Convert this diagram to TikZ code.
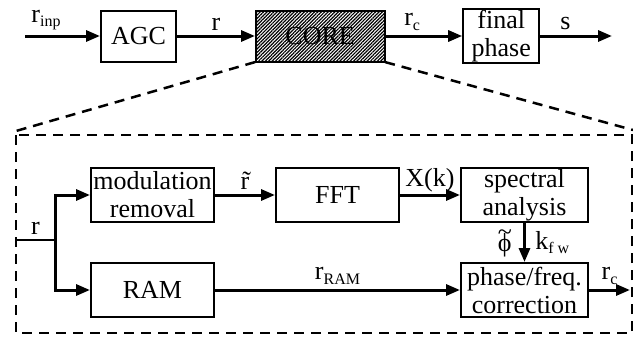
\documentclass[tikz,border=0pt]{standalone}
\usepackage{fontspec}
\setmainfont{Liberation Serif}
\usepackage{tikz}
\usetikzlibrary{arrows.meta,positioning,patterns.meta}
\newcommand{\lsub}[1]{\raisebox{-0.35ex}{\fontsize{16}{16}\selectfont #1}}
\newcommand{\tphi}{\ooalign{ϕ\cr\hidewidth\raisebox{0.42em}{\~{}}\hidewidth\cr}}

\begin{document}
\begin{tikzpicture}[
  x=1pt, y=-1pt,
  font=\fontsize{26}{28}\selectfont,
  blk/.style={draw, line width=2pt, align=center, inner sep=1pt, minimum height=51pt},
  iblk/.style={draw, line width=2pt, align=center, inner sep=1pt, minimum width=123pt, minimum height=54pt},
  arr/.style={-{Triangle[length=14pt,width=11pt]}, line width=3pt},
  zoomln/.style={line width=2.5pt, dash pattern=on 10pt off 7pt}
]
  \useasboundingbox (0,0) rectangle (633,340);

  % top chain
  \node[blk, minimum width=75pt] (agc) at (138.5,36) {AGC};
  \node[blk, minimum width=129pt, right=78pt of agc,
        pattern={Lines[angle=45,distance=2.4pt,line width=1.2pt]}] (core) {CORE};
  \node[blk, minimum width=76pt, right=77pt of core] (final) {final\\phase};
  \coordinate (in) at (25,36);
  \coordinate (out) at (612,36);

  \draw[arr] (in) -- node[pos=0.28, above=1pt]{r\lsub{inp}} (agc);
  \draw[arr] (agc) -- node[above=1pt]{r} (core);
  \draw[arr] (core) -- node[pos=0.35, above=1pt]{r\lsub{c}} (final);
  \draw[arr] (final) -- node[pos=0.35, above=1pt]{s} (out);

  % zoom into the core
  \draw[zoomln] (16,135) rectangle (632,333);
  \coordinate (zl) at (16,131);
  \coordinate (zr) at (633,130);
  \draw[zoomln] (core.south west) -- (zl);
  \draw[zoomln] (core.south east) -- (zr);

  % inner blocks
  \node[iblk] (modrem) at (152.5,195) {modulation\\removal};
  \node[iblk, right=60pt of modrem] (fft) {FFT};
  \node[iblk, minimum width=127pt, right=60pt of fft] (spec) {spectral\\analysis};
  \node[iblk] (ram) at (152.5,290) {RAM};
  \node[iblk, minimum width=127pt] (corr) at (spec |- ram) {phase/freq.\\correction};

  \coordinate (rin) at (16,240);
  \coordinate (split) at (55,240);
  \coordinate (rout) at (630,290);

  \draw[line width=2.5pt] (rin) -- node[above=1pt]{r} (split);
  \draw[arr] (split) |- (modrem);
  \draw[arr] (split) |- (ram);
  \draw[arr] (modrem) -- node[above=1pt]{\~{r}} (fft);
  \draw[arr] (fft) -- node[above=0pt, inner sep=1pt]{X(k)} (spec);
  \draw[arr] (spec) -- node[left=8pt]{\tphi} node[right=6pt]{k\lsub{f w}} (corr);
  \draw[arr] (ram) -- node[above=1pt]{r\lsub{RAM}} (corr);
  \draw[arr] (corr) -- node[above=1pt]{r\lsub{c}} (rout);
\end{tikzpicture}
\end{document}
